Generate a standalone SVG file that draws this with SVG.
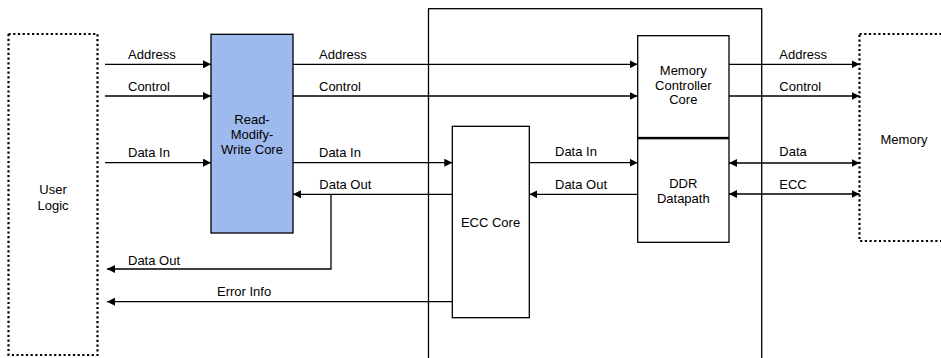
<svg xmlns="http://www.w3.org/2000/svg" width="941" height="358" viewBox="0 0 941 358">
  <style>
    .box { fill: #ffffff; stroke: #000000; stroke-width: 1.3; }
    .core { fill: #9db9ee; stroke: #000000; stroke-width: 1.3; }
    .dotted { fill: #ffffff; stroke: #000000; stroke-width: 2.2; stroke-dasharray: 2.2 2.5; }
    .wire { fill: none; stroke: #000000; stroke-width: 1.3; }
    .lbl { font-family: "Liberation Sans", Arial, sans-serif; font-size: 13px; fill: #000000; }
    .mid { text-anchor: middle; }
  </style>
  <defs>
    <marker id="ah" viewBox="0 0 8 8" refX="8" refY="4" markerWidth="8" markerHeight="8" orient="auto-start-reverse" markerUnits="userSpaceOnUse">
      <path d="M0,0 L8,4 L0,8 z" fill="#000000"/>
    </marker>
  </defs>

  <!-- outer controller boundary -->
  <g id="controller">
    <rect class="box" x="428.5" y="8.7" width="333.2" height="360" fill="none"/>
  </g>

  <g id="user-logic">
    <rect class="dotted" x="8.5" y="34" width="89" height="321"/>
    <text class="lbl mid" x="53" y="194">User</text>
    <text class="lbl mid" x="53" y="209.5">Logic</text>
  </g>

  <g id="rmw-core">
    <rect class="core" x="211" y="34.3" width="82" height="198.7"/>
    <text class="lbl mid" x="252" y="123.5">Read-</text>
    <text class="lbl mid" x="252" y="138.5">Modify-</text>
    <text class="lbl mid" x="252" y="153.5">Write Core</text>
  </g>

  <g id="ecc-core">
    <rect class="box" x="452.3" y="126.3" width="77" height="191.4"/>
    <text class="lbl mid" x="490.5" y="227">ECC Core</text>
  </g>

  <g id="mem-ctrl-core">
    <rect class="box" x="637.7" y="35.7" width="91.3" height="101.8"/>
    <text class="lbl mid" x="683.3" y="75">Memory</text>
    <text class="lbl mid" x="683.3" y="89.5">Controller</text>
    <text class="lbl mid" x="683.3" y="104">Core</text>
  </g>

  <g id="ddr-datapath">
    <rect class="box" x="637.7" y="138.7" width="91.3" height="103.6"/>
    <text class="lbl mid" x="683.3" y="188">DDR</text>
    <text class="lbl mid" x="683.3" y="203">Datapath</text>
  </g>

  <g id="memory">
    <rect class="dotted" x="859.5" y="34" width="100" height="207"/>
    <text class="lbl mid" x="904" y="144">Memory</text>
  </g>

  <g id="connectors">
    <path class="wire" marker-end="url(#ah)" d="M105,64.3 H211"/>
    <path class="wire" marker-end="url(#ah)" d="M105,96 H211"/>
    <path class="wire" marker-end="url(#ah)" d="M105,162.7 H211"/>
    <path class="wire" marker-end="url(#ah)" d="M293,64.3 H637.7"/>
    <path class="wire" marker-end="url(#ah)" d="M293,96 H637.7"/>
    <path class="wire" marker-end="url(#ah)" d="M293,162.7 H452.3"/>
    <path class="wire" marker-end="url(#ah)" d="M452.3,194.3 H293"/>
    <path class="wire" marker-end="url(#ah)" d="M331,194.3 V269 H107"/>
    <path class="wire" marker-end="url(#ah)" d="M452.3,301.7 H107"/>
    <path class="wire" marker-end="url(#ah)" d="M529.3,162.7 H637.7"/>
    <path class="wire" marker-end="url(#ah)" d="M637.7,194.3 H529.3"/>
    <path class="wire" marker-end="url(#ah)" d="M729,64.3 H859.5"/>
    <path class="wire" marker-end="url(#ah)" d="M729,96 H859.5"/>
    <path class="wire" marker-start="url(#ah)" marker-end="url(#ah)" d="M729,163 H859.5"/>
    <path class="wire" marker-start="url(#ah)" marker-end="url(#ah)" d="M729,194 H859.5"/>

    <text class="lbl" x="128" y="58.5">Address</text>
    <text class="lbl" x="128" y="90.5">Control</text>
    <text class="lbl" x="128" y="156.5">Data In</text>
    <text class="lbl" x="128" y="265">Data Out</text>
    <text class="lbl" x="217" y="296">Error Info</text>
    <text class="lbl" x="319" y="58.5">Address</text>
    <text class="lbl" x="319" y="90.5">Control</text>
    <text class="lbl" x="319" y="156.5">Data In</text>
    <text class="lbl" x="319.3" y="189">Data Out</text>
    <text class="lbl" x="555" y="156">Data In</text>
    <text class="lbl" x="555" y="188.5">Data Out</text>
    <text class="lbl" x="779.3" y="58.5">Address</text>
    <text class="lbl" x="779.3" y="90.5">Control</text>
    <text class="lbl" x="779.3" y="156">Data</text>
    <text class="lbl" x="779.3" y="188.5">ECC</text>
  </g>
</svg>
